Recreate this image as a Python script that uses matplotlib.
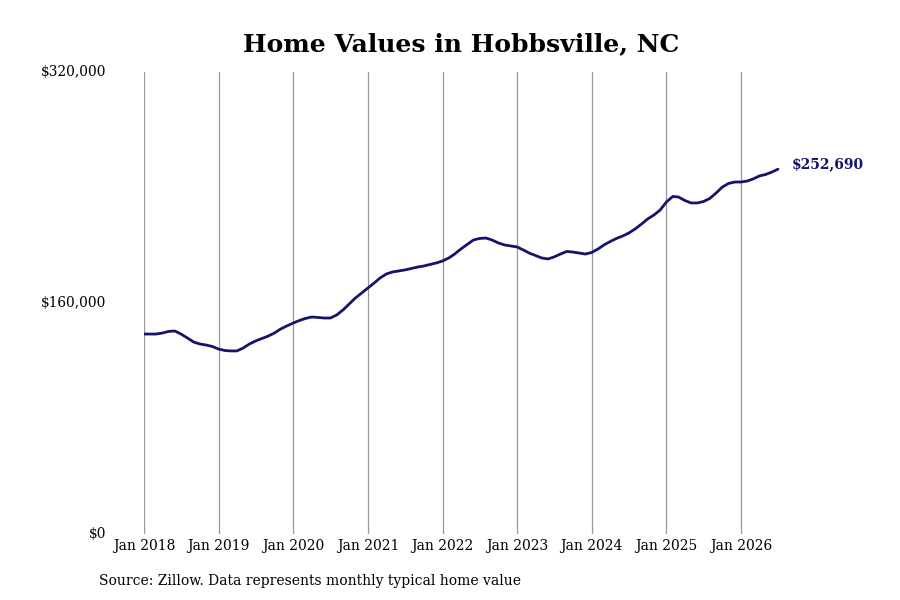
import matplotlib
matplotlib.use("Agg")
import matplotlib.pyplot as plt
import matplotlib.dates as mdates
import pandas as pd
import numpy as np

title = "Home Values in Hobbsville, NC"
source = "Source: Zillow. Data represents monthly typical home value"

dates = pd.date_range("2018-01-01", "2026-07-01", freq="MS")
values = [
    138500, 138500, 138500, 139200, 140300, 140600, 138500, 135800, 133000, 131600, 130900, 129900,
    128100, 127100, 126800, 126800, 128800, 131600, 133700, 135400, 137100, 139200, 142000, 144100,
    146100, 147900, 149300, 150300, 150000, 149600, 149600, 151700, 155200, 159300, 163500, 166900,
    170400, 173900, 177300, 180100, 181500, 182200, 182900, 183900, 184900, 185600, 186700, 187700,
    189100, 191200, 193900, 197400, 200500, 203600, 204700, 205000, 203600, 201600, 200200, 199500,
    198800, 196700, 194600, 192900, 191200, 190500, 191900, 193900, 195700, 195300, 194600, 193900,
    195000, 197400, 200200, 202600, 204700, 206400, 208500, 211300, 214700, 218200, 221000, 224400,
    230000, 233800, 233400, 231000, 229300, 229300, 230300, 232400, 236200, 240300, 242800, 243800,
    243800, 244500, 245900, 248000, 249000, 250700, 252690,
]
y_ticks = [0, 160000, 320000]
y_labels = ["$0", "$160,000", "$320,000"]
x_ticks = pd.date_range("2018-01-01", "2026-01-01", freq="YS")
x_labels = [f"Jan {d.year}" for d in x_ticks]

line_color = "#15146a"
plt.rcParams['font.family'] = ['DejaVu Serif', 'DejaVu Sans']

fig = plt.figure(figsize=(9, 6), dpi=100)
ax = fig.add_axes([144/900, 1-534/600, (800-144)/900, (534-72)/600])

ax.plot(dates, values, color=line_color, lw=2.0, solid_capstyle='round')

x0 = mdates.date2num(pd.Timestamp("2018-01-01"))
ax.set_xlim(x0, x0 + 8.79 * 365.25)
ax.set_ylim(0, 320000)

ax.set_xticks(x_ticks)
ax.set_xticklabels(x_labels, fontsize=10)
ax.set_yticks(y_ticks)
ax.set_yticklabels(y_labels, fontsize=11, fontstretch='condensed')
ax.tick_params(axis='x', length=0, pad=3.5)
ax.tick_params(axis='y', length=0, pad=27)
for lbl in ax.get_yticklabels():
    lbl.set_verticalalignment('center')

ax.grid(axis='x', color='#999999', lw=0.9)
ax.grid(axis='y', visible=False)
for s in ax.spines.values():
    s.set_visible(False)

ax.annotate(f"${values[-1]:,}", xy=(dates[-1], values[-1]), xytext=(10, 3.5),
            textcoords='offset points', fontsize=10, fontweight='bold',
            color=line_color, va='center', ha='left')

fig.text(461/900, 1-44/600, title, fontsize=18, fontweight='bold', ha='center', va='center')
fig.text(99/900, 1-581/600, source, fontsize=10, ha='left', va='center')

fig.savefig("out.png", dpi=100)
